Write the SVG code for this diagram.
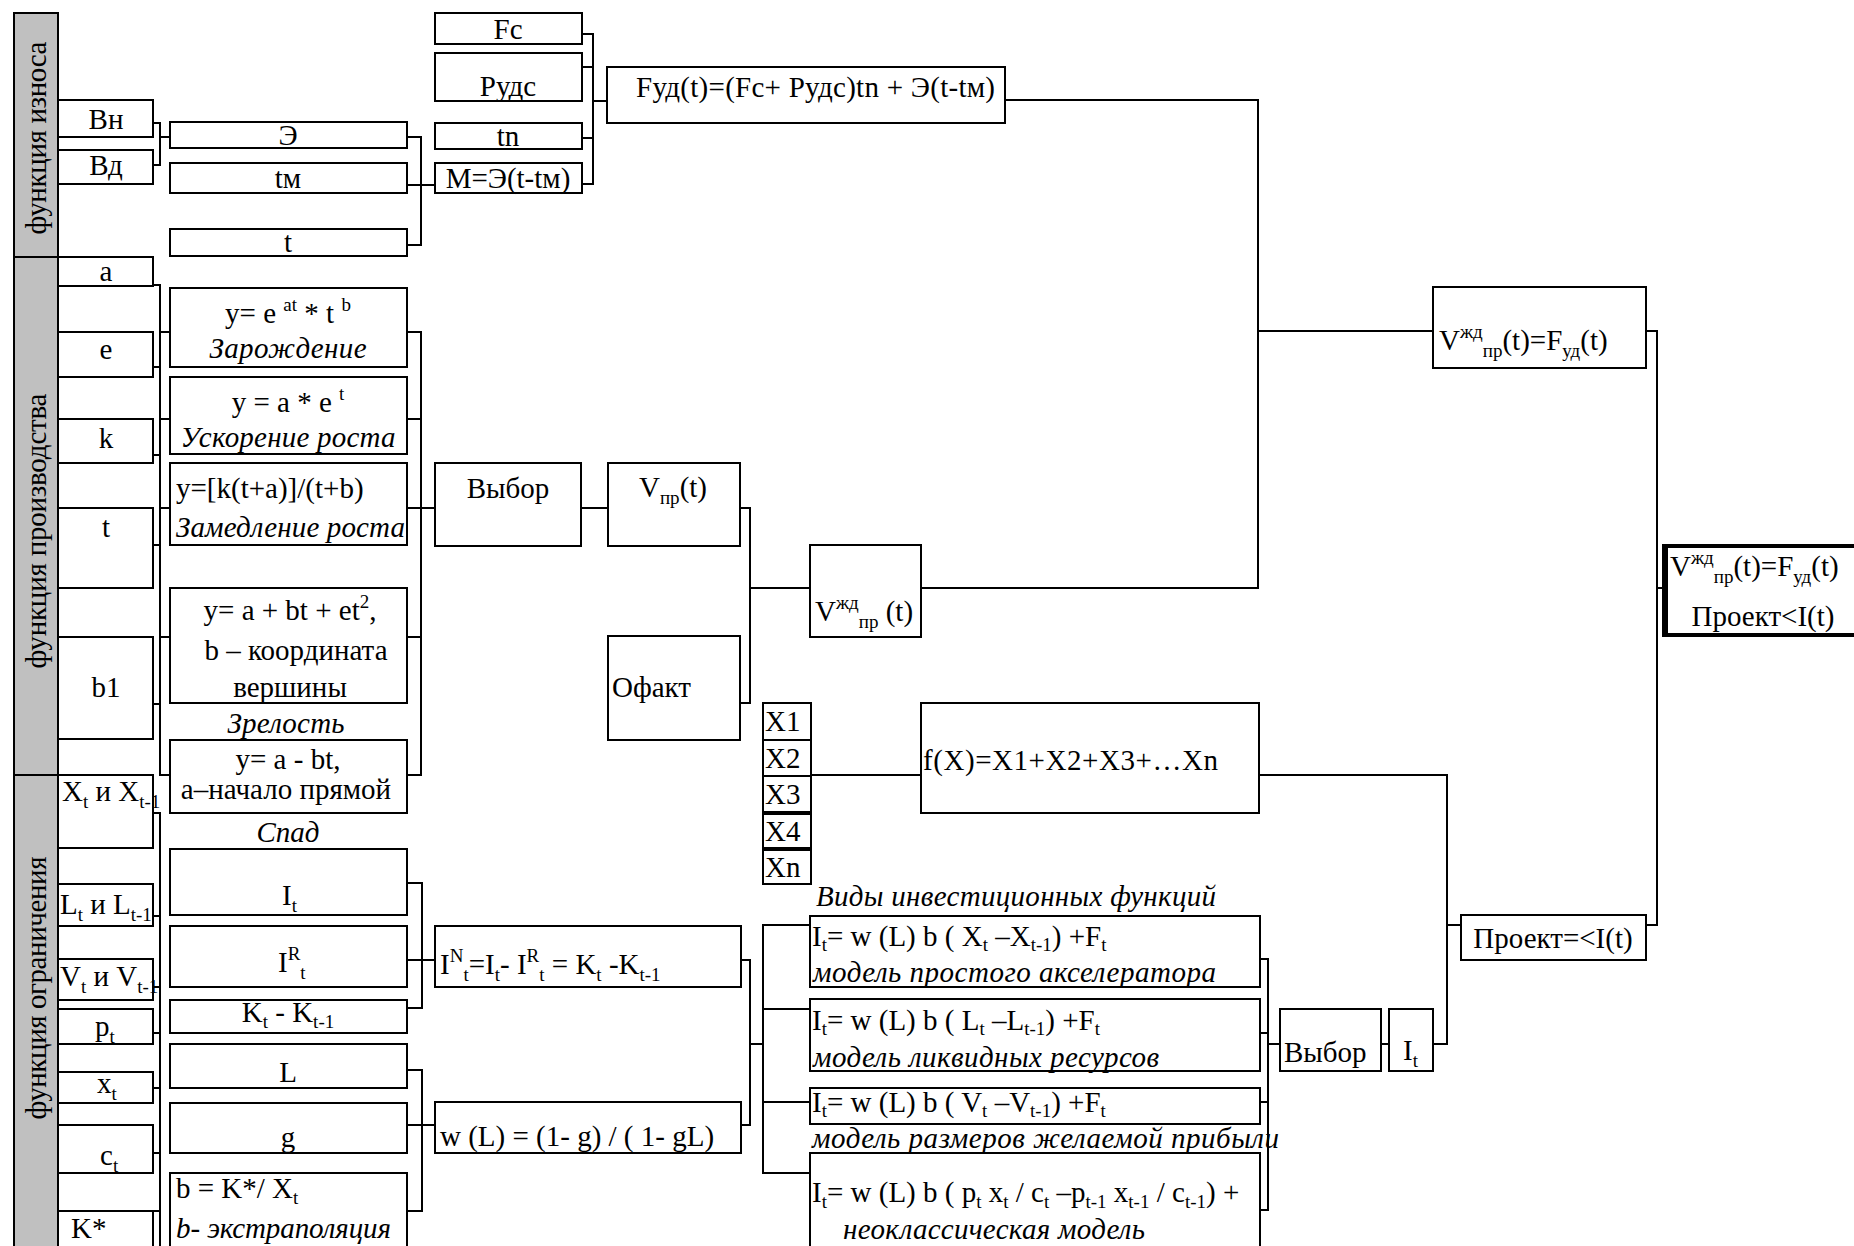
<svg xmlns="http://www.w3.org/2000/svg" width="1854" height="1246" viewBox="0 0 1854 1246">
<style>
.b{fill:#fff;stroke:#000;stroke-width:2}
.g{fill:#c0c0c0;stroke:#000;stroke-width:2}
.c{fill:none;stroke:#000;stroke-width:2}
text{font-family:"Liberation Serif","Times New Roman",serif;font-size:29px;fill:#000}
.i{font-style:italic}
.m{text-anchor:middle}
.s{font-size:19px}
</style>
<rect width="1854" height="1246" fill="#fff"/>
<g id="connectors">
<path class="c" d="M153,123H160V165H153M160,137H170"/>
<path class="c" d="M407,137H421V245H407M407,185H435"/>
<path class="c" d="M582,34H593V184H582M582,67H593M582,138H593M593,101H607"/>
<path class="c" d="M1005,100H1258V588H921M1258,331H1433"/>
<path class="c" d="M1646,331H1657V925H1646M1657,588H1663"/>
<path class="c" d="M153,285H160V775H170M153,367H160M153,455H160M153,545H160M153,704H160M160,332H170M160,419H170M160,508H170M160,637H170"/>
<path class="c" d="M407,332H421V775H407M407,419H421M407,508H435M407,637H421"/>
<path class="c" d="M581,508H608"/>
<path class="c" d="M740,508H750V703H740M750,588H810"/>
<path class="c" d="M811,775H921"/>
<path class="c" d="M1259,775H1447V1044H1433M1447,925H1461"/>
<path class="c" d="M153,813H160V1246M153,916H160M153,987H160M153,1033H160M153,1088H160M153,1153H160M153,1211H160"/>
<path class="c" d="M407,883H422V1008H407M407,960H435"/>
<path class="c" d="M407,1070H422V1211H407M407,1125H435"/>
<path class="c" d="M741,960H750V1125H741M750,1044H763"/>
<path class="c" d="M810,925H763V1173H810M763,1009H810M763,1102H810"/>
<path class="c" d="M1259,959H1268V1210H1259M1259,1033H1268M1259,1102H1268M1268,1044H1280"/>
<path class="c" d="M1381,1044H1389"/>
</g>
<g id="side-iznos"><rect class="g" x="14" y="13" width="44" height="244"/><text class="m" transform="translate(46,138) rotate(-90)" textLength="193">функция износа</text></g>
<g id="side-proizv"><rect class="g" x="14" y="257" width="44" height="518"/><text class="m" transform="translate(46,531) rotate(-90)" textLength="275">функция производства</text></g>
<g id="side-ogr"><rect class="g" x="14" y="775" width="44" height="480"/><text class="m" transform="translate(46,988) rotate(-90)" textLength="263">функция ограничения</text></g>

<g id="n-vn"><rect class="b" x="58" y="100" width="95" height="37"/><text class="m" x="106" y="129">Вн</text></g>
<g id="n-vd"><rect class="b" x="58" y="150" width="95" height="34"/><text class="m" x="106" y="175">Вд</text></g>
<g id="n-e"><rect class="b" x="170" y="122" width="237" height="26"/><text class="m" x="288" y="145">Э</text></g>
<g id="n-tm"><rect class="b" x="170" y="163" width="237" height="30"/><text class="m" x="288" y="188">tм</text></g>
<g id="n-t0"><rect class="b" x="170" y="229" width="237" height="27"/><text class="m" x="288" y="252">t</text></g>
<g id="n-fc"><rect class="b" x="435" y="13" width="147" height="31"/><text class="m" x="508" y="39">Fc</text></g>
<g id="n-ruds"><rect class="b" x="435" y="53" width="147" height="48"/><text class="m" x="508" y="96">Рудс</text></g>
<g id="n-tn"><rect class="b" x="435" y="123" width="147" height="26"/><text class="m" x="508" y="146">tn</text></g>
<g id="n-m"><rect class="b" x="435" y="163" width="147" height="30"/><text class="m" x="508" y="188">M=Э(t-tм)</text></g>
<g id="n-fud"><rect class="b" x="607" y="67" width="398" height="56"/><text x="636" y="97" textLength="359">Fуд(t)=(Fc+ Рудс)tn + Э(t-tм)</text></g>

<g id="n-a"><rect class="b" x="58" y="257" width="95" height="29"/><text class="m" x="106" y="281">a</text></g>
<g id="n-ee"><rect class="b" x="58" y="332" width="95" height="45"/><text class="m" x="106" y="359">e</text></g>
<g id="n-k"><rect class="b" x="58" y="419" width="95" height="44"/><text class="m" x="106" y="448">k</text></g>
<g id="n-t1"><rect class="b" x="58" y="508" width="95" height="80"/><text class="m" x="106" y="537">t</text></g>
<g id="n-b1"><rect class="b" x="58" y="637" width="95" height="102"/><text class="m" x="106" y="697">b1</text></g>

<g id="n-f1"><rect class="b" x="170" y="288" width="237" height="79"/><text class="m" x="288" y="323">y= e <tspan class="s" dy="-12">at</tspan><tspan dy="12"> * t </tspan><tspan class="s" dy="-12">b</tspan></text><text class="m i" x="288" y="358" textLength="157">Зарождение</text></g>
<g id="n-f2"><rect class="b" x="170" y="377" width="237" height="77"/><text class="m" x="288" y="412">y = a * e <tspan class="s" dy="-12">t</tspan></text><text class="m i" x="288" y="447" textLength="215">Ускорение роста</text></g>
<g id="n-f3"><rect class="b" x="170" y="463" width="237" height="82"/><text x="176" y="498">y=[k(t+a)]/(t+b)</text><text class="i" x="176" y="537" textLength="229">Замедление роста</text></g>
<g id="n-f4"><rect class="b" x="170" y="588" width="237" height="115"/><text class="m" x="290" y="620">y= a + bt + et<tspan class="s" dy="-12">2</tspan><tspan dy="12">,</tspan></text><text class="m" x="296" y="660">b – координата</text><text class="m" x="290" y="697">вершины</text></g>
<text id="l-zrel" class="m i" x="286" y="733" textLength="117">Зрелость</text>
<g id="n-f5"><rect class="b" x="170" y="740" width="237" height="73"/><text class="m" x="288" y="769">y= a - bt,</text><text class="m" x="286" y="799">a–начало прямой</text></g>
<text id="l-spad" class="m i" x="288" y="842">Спад</text>

<g id="n-vybor1"><rect class="b" x="435" y="463" width="146" height="83"/><text class="m" x="508" y="498">Выбор</text></g>
<g id="n-vpr"><rect class="b" x="608" y="463" width="132" height="83"/><text class="m" x="673" y="497">V<tspan class="s" dy="7">пр</tspan><tspan dy="-7">(t)</tspan></text></g>
<g id="n-ofakt"><rect class="b" x="608" y="636" width="132" height="104"/><text x="612" y="697">Офакт</text></g>
<g id="n-vzhpr"><rect class="b" x="810" y="545" width="111" height="92"/><text x="815" y="621">V<tspan class="s" dy="-12">жд</tspan><tspan class="s" dy="19">пр</tspan><tspan dy="-7"> (t)</tspan></text></g>
<g id="n-x1"><rect class="b" x="763" y="703" width="48" height="37"/><text x="765" y="731">X1</text></g>
<g id="n-x2"><rect class="b" x="763" y="740" width="48" height="36"/><text x="765" y="768">X2</text></g>
<g id="n-x3"><rect class="b" x="763" y="776" width="48" height="36"/><text x="765" y="804">X3</text></g>
<g id="n-x4"><rect class="b" x="763" y="814" width="48" height="34"/><text x="765" y="841">X4</text></g>
<g id="n-xn"><rect class="b" x="763" y="850" width="48" height="34"/><text x="765" y="877">Xn</text></g>
<g id="n-fx"><rect class="b" x="921" y="703" width="338" height="110"/><text x="923" y="770" textLength="295">f(X)=X1+X2+X3+…Xn</text></g>

<g id="n-vf"><rect class="b" x="1433" y="287" width="213" height="81"/><text x="1439" y="350">V<tspan class="s" dy="-12">жд</tspan><tspan class="s" dy="19">пр</tspan><tspan dy="-7">(t)=F</tspan><tspan class="s" dy="7">уд</tspan><tspan dy="-7">(t)</tspan></text></g>
<g id="n-final"><rect x="1664" y="546" width="195" height="89" fill="#fff" stroke="#000" stroke-width="4"/><path d="M1665,545V636" stroke="#000" stroke-width="6"/><text x="1670" y="576">V<tspan class="s" dy="-12">жд</tspan><tspan class="s" dy="19">пр</tspan><tspan dy="-7">(t)=F</tspan><tspan class="s" dy="7">уд</tspan><tspan dy="-7">(t)</tspan></text><text class="m" x="1763" y="626">Проект&lt;I(t)</text></g>
<g id="n-proekt"><rect class="b" x="1461" y="915" width="185" height="45"/><text class="m" x="1553" y="948">Проект=&lt;I(t)</text></g>

<g id="n-xt"><rect class="b" x="58" y="775" width="95" height="73"/><text x="62" y="801">X<tspan class="s" dy="7">t</tspan><tspan dy="-7"> и X</tspan><tspan class="s" dy="7">t-1</tspan></text></g>
<g id="n-lt"><rect class="b" x="58" y="884" width="95" height="42"/><text x="60" y="914">L<tspan class="s" dy="7">t</tspan><tspan dy="-7"> и L</tspan><tspan class="s" dy="7">t-1</tspan></text></g>
<g id="n-vt"><rect class="b" x="58" y="959" width="95" height="41"/><text x="60" y="986">V<tspan class="s" dy="7">t</tspan><tspan dy="-7"> и V</tspan><tspan class="s" dy="7">t-1</tspan></text></g>
<g id="n-pt"><rect class="b" x="58" y="1009" width="95" height="35"/><text x="95" y="1036">p<tspan class="s" dy="7">t</tspan></text></g>
<g id="n-xxt"><rect class="b" x="58" y="1072" width="95" height="31"/><text x="97" y="1093">x<tspan class="s" dy="7">t</tspan></text></g>
<g id="n-ct"><rect class="b" x="58" y="1125" width="95" height="48"/><text x="100" y="1165">c<tspan class="s" dy="7">t</tspan></text></g>
<g id="n-kstar"><rect class="b" x="58" y="1211" width="95" height="45"/><text x="71" y="1238">K*</text></g>

<g id="n-it"><rect class="b" x="170" y="849" width="237" height="66"/><text x="282" y="905">I<tspan class="s" dy="7">t</tspan></text></g>
<g id="n-ir"><rect class="b" x="170" y="926" width="237" height="61"/><text x="278" y="972">I<tspan class="s" dy="-12">R</tspan><tspan class="s" dy="19">t</tspan></text></g>
<g id="n-kk"><rect class="b" x="170" y="1000" width="237" height="33"/><text class="m" x="288" y="1022">K<tspan class="s" dy="6">t</tspan><tspan dy="-6"> - K</tspan><tspan class="s" dy="6">t-1</tspan></text></g>
<g id="n-l"><rect class="b" x="170" y="1044" width="237" height="44"/><text class="m" x="288" y="1082">L</text></g>
<g id="n-gg"><rect class="b" x="170" y="1103" width="237" height="50"/><text class="m" x="288" y="1147">g</text></g>
<g id="n-bk"><rect class="b" x="170" y="1173" width="237" height="83"/><text x="176" y="1198">b = K*/ X<tspan class="s" dy="6">t</tspan></text><text class="i" x="176" y="1238" textLength="215">b- экстраполяция</text></g>

<g id="n-in"><rect class="b" x="435" y="926" width="306" height="61"/><text x="440" y="974">I<tspan class="s" dy="-12">N</tspan><tspan class="s" dy="19">t</tspan><tspan dy="-7">=I</tspan><tspan class="s" dy="7">t</tspan><tspan dy="-7">- I</tspan><tspan class="s" dy="-12">R</tspan><tspan class="s" dy="19">t</tspan><tspan dy="-7"> = K</tspan><tspan class="s" dy="7">t</tspan><tspan dy="-7"> -K</tspan><tspan class="s" dy="7">t-1</tspan></text></g>
<g id="n-wl"><rect class="b" x="435" y="1102" width="306" height="51"/><text x="440" y="1146">w (L) = (1- g) / ( 1- gL)</text></g>

<text id="l-vidy" class="i" x="816" y="906" textLength="400">Виды инвестиционных функций</text>
<g id="n-inv1"><rect class="b" x="810" y="916" width="450" height="71"/><text x="812" y="946">I<tspan class="s" dy="5">t</tspan><tspan dy="-5">= w (L) b ( X</tspan><tspan class="s" dy="5">t</tspan><tspan dy="-5"> –X</tspan><tspan class="s" dy="5">t-1</tspan><tspan dy="-5">) +F</tspan><tspan class="s" dy="5">t</tspan></text><text class="i" x="813" y="982" textLength="403">модель простого акселератора</text></g>
<g id="n-inv2"><rect class="b" x="810" y="999" width="450" height="72"/><text x="812" y="1030">I<tspan class="s" dy="5">t</tspan><tspan dy="-5">= w (L) b ( L</tspan><tspan class="s" dy="5">t</tspan><tspan dy="-5"> –L</tspan><tspan class="s" dy="5">t-1</tspan><tspan dy="-5">) +F</tspan><tspan class="s" dy="5">t</tspan></text><text class="i" x="813" y="1067" textLength="346">модель ликвидных ресурсов</text></g>
<g id="n-inv3"><rect class="b" x="810" y="1088" width="450" height="36"/><text x="812" y="1112">I<tspan class="s" dy="5">t</tspan><tspan dy="-5">= w (L) b ( V</tspan><tspan class="s" dy="5">t</tspan><tspan dy="-5"> –V</tspan><tspan class="s" dy="5">t-1</tspan><tspan dy="-5">) +F</tspan><tspan class="s" dy="5">t</tspan></text></g>
<text id="l-razm" class="i" x="812" y="1148" textLength="467">модель размеров желаемой прибыли</text>
<g id="n-inv4"><rect class="b" x="810" y="1153" width="450" height="103"/><text x="812" y="1202">I<tspan class="s" dy="6">t</tspan><tspan dy="-6">= w (L) b ( p</tspan><tspan class="s" dy="6">t</tspan><tspan dy="-6"> x</tspan><tspan class="s" dy="6">t</tspan><tspan dy="-6"> / c</tspan><tspan class="s" dy="6">t</tspan><tspan dy="-6"> –p</tspan><tspan class="s" dy="6">t-1</tspan><tspan dy="-6"> x</tspan><tspan class="s" dy="6">t-1</tspan><tspan dy="-6"> / c</tspan><tspan class="s" dy="6">t-1</tspan><tspan dy="-6">) +</tspan></text><text class="i" x="843" y="1239" textLength="302">неоклассическая модель</text></g>

<g id="n-vybor2"><rect class="b" x="1280" y="1009" width="101" height="62"/><text x="1284" y="1062">Выбор</text></g>
<g id="n-it2"><rect class="b" x="1389" y="1009" width="44" height="62"/><text x="1403" y="1060">I<tspan class="s" dy="7">t</tspan></text></g>
</svg>
